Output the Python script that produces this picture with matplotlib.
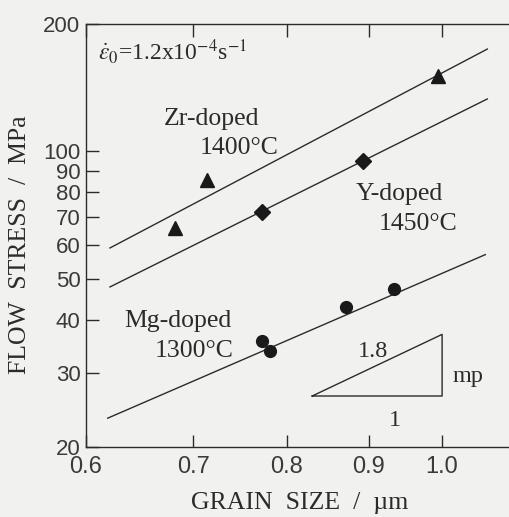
import numpy as np
import matplotlib
matplotlib.use('Agg')
from matplotlib import pyplot as plt
from matplotlib.ticker import FixedLocator, NullLocator

# data (grain size um, flow stress MPa)
zr_size = [0.682, 0.714, 0.994]
zr_stress = [65.9, 85.5, 150.7]
y_size = [0.772, 0.893]
y_stress = [71.9, 94.9]
mg_size = [0.772, 0.781, 0.871, 0.933]
mg_stress = [35.6, 33.7, 42.9, 47.3]

# fitted lines (end points)
zr_fit_x = [0.621, 1.067]
zr_fit_y = [59.1, 174.5]
y_fit_x = [0.621, 1.067]
y_fit_y = [47.8, 133.0]
mg_fit_x = [0.619, 1.064]
mg_fit_y = [23.4, 57.0]

# slope triangle
tri_x = [0.83, 1.0]
tri_y0 = 26.4
tri_slope = 1.8

yticks = [20, 30, 40, 50, 60, 70, 80, 90, 100, 200]
ytick_labels = ['20', '30', '40', '50', '60', '70', '80', '90', '100', '200']
xticks = [0.6, 0.7, 0.8, 0.9, 1.0]
xtick_labels = ['0.6', '0.7', '0.8', '0.9', '1.0']

ink = '#2b2b2b'
paper = '#f1f1ef'
serif = ['Liberation Serif', 'DejaVu Serif']
plt.rcParams['mathtext.fontset'] = 'stix'

fig = plt.figure(figsize=(5.09, 5.17), dpi=100, facecolor=paper)
ax = fig.add_axes([86/509, 70/517, 435/509, 423/517])
ax.set_facecolor(paper)
ax.set_xscale('log')
ax.set_yscale('log')
ax.set_xlim(0.6, 0.6*np.exp(0.624))
ax.set_ylim(20, 200)

lw = 1.0
ax.plot(zr_fit_x, zr_fit_y, color=ink, lw=lw)
ax.plot(y_fit_x, y_fit_y, color=ink, lw=lw)
ax.plot(mg_fit_x, mg_fit_y, color=ink, lw=lw)
ax.plot(zr_size, zr_stress, '^', color='#1a1a1a', ms=10, ls='none')
ax.plot(y_size, y_stress, 'D', color='#1a1a1a', ms=8, ls='none')
ax.plot(mg_size, mg_stress, 'o', color='#1a1a1a', ms=8.5, ls='none')

# slope triangle
ty1 = tri_y0 * (tri_x[1]/tri_x[0])**tri_slope
ax.plot([tri_x[0], tri_x[1], tri_x[1], tri_x[0]], [tri_y0, tri_y0, ty1, tri_y0], color=ink, lw=lw)

txt = dict(family=serif, color=ink, ha='left', va='baseline')
ax.text(0.8865, 32.6, '1.8', fontsize=17.5, **txt)
ax.text(1.0146, 28.5, 'mp', fontsize=17.5, **txt)
ax.text(0.9268, 22.4, '1', fontsize=17.5, **txt)

# labels in the plot
ax.text(0.671, 115.4, 'Zr-doped', fontsize=18.5, **txt)
ax.text(0.706, 98.6, '1400°C', fontsize=18.5, **txt)
ax.text(0.883, 76.7, 'Y-doped', fontsize=18.5, **txt)
ax.text(0.9135, 65.2, '1450°C', fontsize=18.5, **txt)
ax.text(0.6336, 38.4, 'Mg-doped', fontsize=18.5, **txt)
ax.text(0.6624, 32.6, '1300°C', fontsize=18.5, **txt)
ax.text(0.6104, 164.4, r'$\dot{\varepsilon}_0$=1.2x10$^{-4}$s$^{-1}$', fontsize=17, **txt)

ax.xaxis.set_major_locator(FixedLocator(xticks))
ax.xaxis.set_minor_locator(NullLocator())
ax.set_xticklabels(xtick_labels)
ax.yaxis.set_major_locator(FixedLocator(yticks))
ax.yaxis.set_minor_locator(NullLocator())
ax.set_yticklabels(ytick_labels)
ax.tick_params(direction='in', length=9, width=1.0, color=ink, labelcolor='#3a3a3a',
               top=True, right=True)
ax.tick_params(axis='x', pad=6.5, labelsize=17)
ax.tick_params(axis='y', pad=4, labelsize=16)
for lab in ax.get_xticklabels() + ax.get_yticklabels():
    lab.set_family(['Liberation Sans', 'DejaVu Sans'])
for sp in ax.spines.values():
    sp.set_color(ink)
    sp.set_linewidth(1.0)

ax.set_xlabel('GRAIN  SIZE  /  µm', fontsize=18.5, family=serif, color=ink, ha='center', va='center')
ax.set_ylabel('FLOW  STRESS  /  MPa', fontsize=18.5, family=serif, color=ink, ha='center', va='center')
ax.xaxis.set_label_coords(0.492, -0.132)
ax.yaxis.set_label_coords(-0.152, 0.478)

fig.savefig('out.png', dpi=100, facecolor=paper)
